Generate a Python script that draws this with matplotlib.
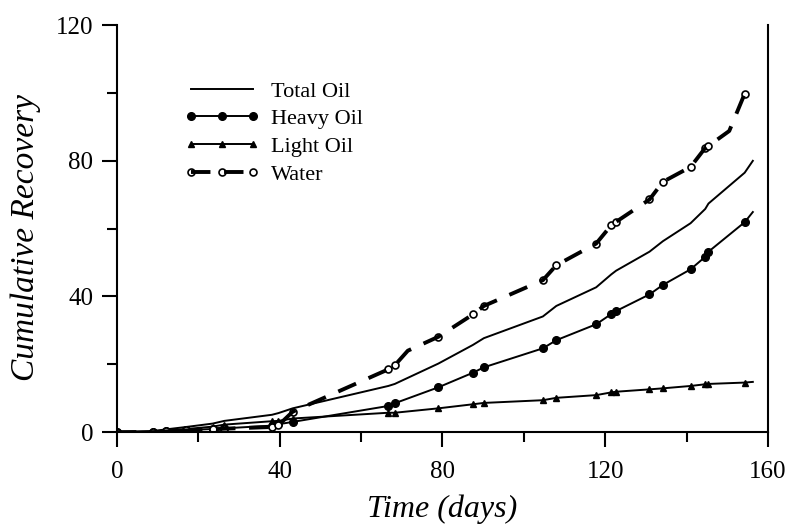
import matplotlib
matplotlib.use('Agg')
import matplotlib.pyplot as plt
from matplotlib.ticker import MultipleLocator

plt.rcParams['font.family'] = ['Liberation Serif', 'DejaVu Serif']

# sampling days (markers), last oil point is the curve end
days = [0, 8.9, 12.1, 17.0, 23.5, 26.4, 38.1, 39.7, 43.2, 66.7, 68.3, 79.0, 87.5,
        90.2, 104.7, 108.0, 117.8, 121.5, 122.7, 130.9, 134.2, 141.0, 144.6, 145.4, 154.3]
oil_days = days + [156.3]

total_oil = [0, 0.3, 0.8, 1.5, 2.5, 3.3, 5.1, 5.6, 7.0, 13.6, 14.2, 20.2, 25.7,
             27.7, 34.1, 37.2, 42.7, 46.5, 47.6, 53.2, 56.3, 61.6, 65.8, 67.4, 76.5, 80.0]
heavy_oil = [0, 0.1, 0.3, 0.6, 0.9, 1.1, 1.9, 2.3, 3.0, 7.7, 8.5, 13.2, 17.5,
             19.1, 24.7, 27.1, 31.8, 34.8, 35.7, 40.6, 43.4, 48.0, 51.7, 53.2, 61.9, 64.9]
light_oil = [0, 0.2, 0.5, 0.9, 1.6, 2.2, 3.2, 3.3, 4.0, 5.7, 5.7, 7.0, 8.2,
             8.6, 9.4, 10.1, 10.9, 11.7, 11.9, 12.6, 12.9, 13.6, 14.1, 14.2, 14.6, 14.8]

# water has two extra points where the dashed curve bends
water_days = [0, 8.9, 12.1, 17.0, 23.5, 26.4, 38.1, 39.7, 43.2, 66.7, 68.3, 71.5, 79.0, 87.5,
              90.2, 104.7, 108.0, 117.8, 121.5, 122.7, 130.9, 134.2, 141.0, 144.6, 145.4, 150.5, 154.3]
water = [0, 0, 0.2, 0.5, 0.8, 1.0, 1.5, 2.0, 6.0, 18.5, 19.7, 24.0, 28.1, 34.7,
         37.2, 44.8, 49.2, 55.6, 61.0, 62.0, 68.6, 73.8, 78.2, 83.8, 84.4, 88.8, 99.8]

oil_marks = list(range(len(days)))
water_marks = [i for i, d in enumerate(water_days) if d in days]

fig = plt.figure(figsize=(7.9, 5.25), dpi=100)
ax = fig.add_axes([0.148, 0.177, 0.824, 0.775])

l_total, = ax.plot(oil_days, total_oil, color='black', lw=1.4, label='Total Oil')
l_heavy, = ax.plot(oil_days, heavy_oil, color='black', lw=1.4, marker='o', ms=5.5,
                   markevery=oil_marks, label='Heavy Oil')
l_light, = ax.plot(oil_days, light_oil, color='black', lw=1.4, marker='^', ms=4.5,
                   markevery=oil_marks, label='Light Oil')

# open circles under the thick dashed line
w_pts, = ax.plot([water_days[i] for i in water_marks], [water[i] for i in water_marks],
                 ls='none', marker='o', ms=5, mfc='white', mec='black', mew=1.2, zorder=2)
w_line, = ax.plot(water_days, water, color='black', lw=2.8, ls='--', dashes=(5, 3.5), zorder=3)

ax.set_xlim(0, 160)
ax.set_ylim(0, 120)
ax.xaxis.set_major_locator(MultipleLocator(40))
ax.xaxis.set_minor_locator(MultipleLocator(20))
ax.yaxis.set_major_locator(MultipleLocator(40))
ax.yaxis.set_minor_locator(MultipleLocator(20))
ax.tick_params(which='major', direction='out', length=11, width=1.5, labelsize=18, pad=6)
ax.tick_params(axis='x', which='major', pad=10)
ax.tick_params(which='minor', direction='out', length=7, width=1.5)

ax.spines['top'].set_visible(False)
for s in ['left', 'bottom', 'right']:
    ax.spines[s].set_linewidth(1.5)

ax.set_xlabel('Time (days)', fontsize=23, style='italic', labelpad=8)
ax.set_ylabel('Cumulative Recovery', fontsize=24, style='italic')
ax.yaxis.set_label_coords(-0.116, 0.477)

ax.legend([l_total, l_heavy, l_light, (w_pts, w_line)],
          ['Total Oil', 'Heavy Oil', 'Light Oil', 'Water'],
          loc='upper left', bbox_to_anchor=(184 / 790, 1 - 81 / 525),
          bbox_transform=fig.transFigure, frameon=False, fontsize=16,
          numpoints=3, handlelength=3.4, handletextpad=0.53, labelspacing=0.32,
          borderpad=0, borderaxespad=0)

plt.savefig('out.png', dpi=100)
